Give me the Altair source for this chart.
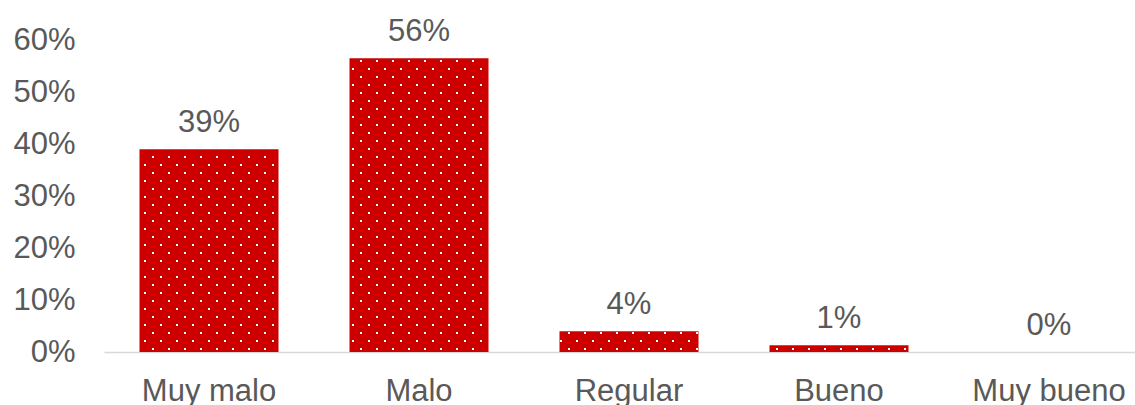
import math
import altair as alt
import pandas as pd

# ---- data ----
categories = ["Muy malo", "Malo", "Regular", "Bueno", "Muy bueno"]
values = [0.39, 0.565, 0.04, 0.013, 0.0]
labels = ["39%", "56%", "4%", "1%", "0%"]
y_ticks = [0, 0.1, 0.2, 0.3, 0.4, 0.5, 0.6]

# ---- layout constants ----
STEP = 210          # px per category band
PLOT_W = 1031
PLOT_H = 312
Y_MAX = 0.6
PAD_IN = 0.338
PAD_OUT = 0.169
RED = "#CC0000"
GREY = "#595959"
FONT = "Liberation Sans"
FS = 31

bars_df = pd.DataFrame({"cat": categories, "value": values, "label": labels})

# ---- white dot texture inside bars (pattern fill) ----
px_per_unit = PLOT_H / Y_MAX
dot_rows = []
for i, v in enumerate(values):
    left = i * STEP + PAD_OUT * STEP
    right = left + (1 - PAD_IN) * STEP
    hpx = v * px_per_unit
    k = 0
    while 3 + 8 * k + 1 <= hpx:
        h = 3 + 8 * k
        phase = 1 if k % 2 == 0 else 9
        x = math.ceil((left + 1 - phase) / 16) * 16 + phase
        while x <= right - 1:
            dot_rows.append({"xu": x / STEP, "value": h / px_per_unit})
            x += 16
        k += 1
dots_df = pd.DataFrame(dot_rows)

y_axis = alt.Axis(
    title=None, format=".0%", values=y_ticks, grid=False, domain=False,
    ticks=False, tickSize=0, labelFontSize=FS, labelColor=GREY, labelFont=FONT,
    labelPadding=29,
)
y_scale = alt.Scale(domain=[0, Y_MAX], nice=False, zero=True)

x_enc = alt.X(
    "cat:N",
    sort=categories,
    scale=alt.Scale(range=[0, 5 * STEP], paddingInner=PAD_IN, paddingOuter=PAD_OUT),
    axis=alt.Axis(
        title=None, labelAngle=0, labelFontSize=FS, labelColor=GREY, labelFont=FONT,
        ticks=False, tickSize=0, domainColor="#D9D9D9", domainWidth=1.5,
        labelPadding=48, labelBaseline="alphabetic",
    ),
)
y_enc = alt.Y("value:Q", scale=y_scale, axis=y_axis)

bars = alt.Chart(bars_df).mark_bar(color=RED).encode(x=x_enc, y=y_enc)
text = alt.Chart(bars_df).mark_text(
    dy=-17, baseline="alphabetic", fontSize=FS, color=GREY, font=FONT
).encode(x=alt.X("cat:N", sort=categories), y=alt.Y("value:Q", scale=y_scale, axis=y_axis), text="label:N")

inner = alt.layer(bars, text)

dots = alt.Chart(dots_df).mark_square(size=4, color="white", opacity=1, filled=True, strokeWidth=0).encode(
    x=alt.X("xu:Q", scale=alt.Scale(domain=[0, 5], range=[0, 5 * STEP], nice=False, zero=False), axis=None),
    y=alt.Y("value:Q", scale=y_scale, axis=y_axis),
)

chart = (
    alt.layer(inner, dots)
    .resolve_scale(x="independent")
    .properties(
        width=PLOT_W,
        height=PLOT_H,
        autosize=alt.AutoSizeParams(type="none"),
        padding={"left": 104, "top": 40, "right": 0, "bottom": 53},
        background="white",
    )
    .configure_view(stroke=None)
)

chart.save("out.html", embed_options={"renderer": "svg", "actions": False})
